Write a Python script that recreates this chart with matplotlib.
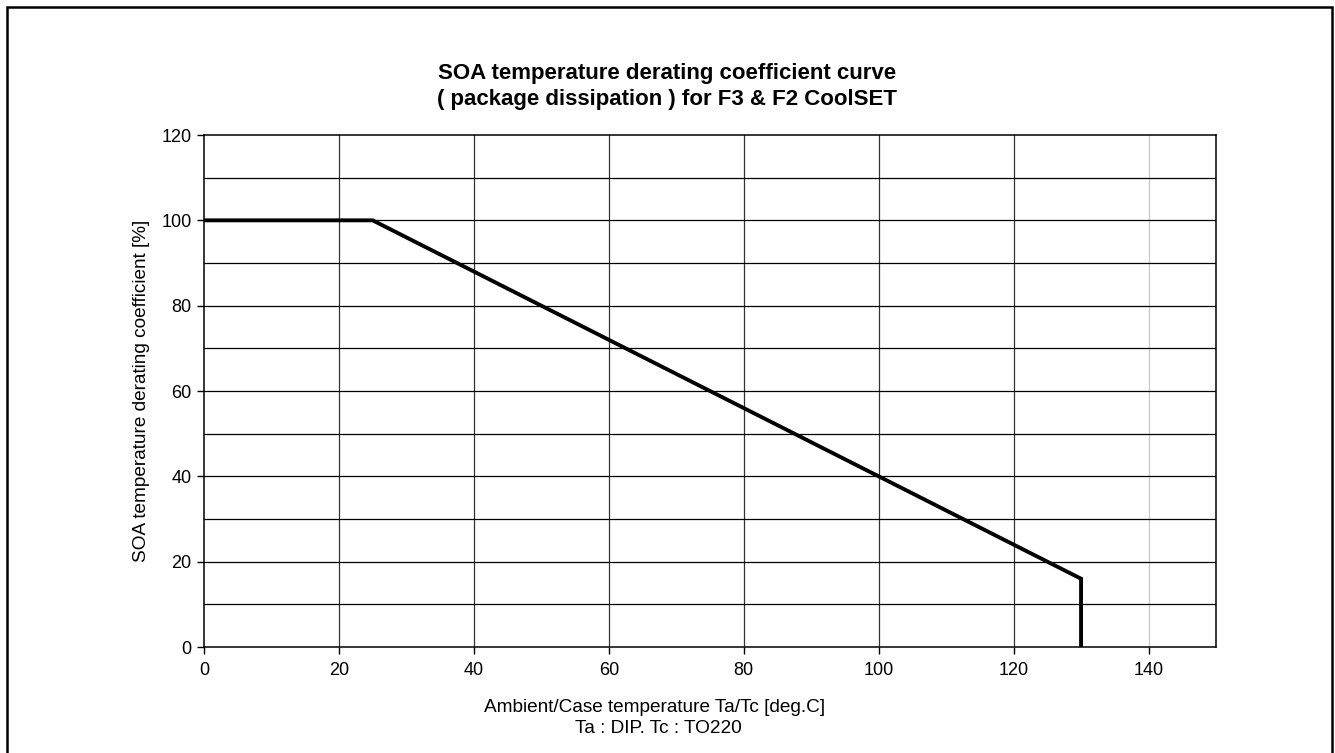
import matplotlib.pyplot as plt
import matplotlib.patches as mpatches

plt.rcParams['font.family'] = ['Liberation Sans', 'DejaVu Sans']

# derating curve
temp = [0, 25, 130, 130]
coef = [100, 100, 16, 0]

x_ticks = [0, 20, 40, 60, 80, 100, 120, 140]
y_ticks = [0, 20, 40, 60, 80, 100, 120]

W, H = 1335, 753
fig = plt.figure(figsize=(W / 100, H / 100), dpi=100)
ax = fig.add_axes([204 / W, 1 - 647 / H, (1216 - 204) / W, (647 - 135) / H])

# outer frame of the page (bottom edge is cut off)
fig.patches.append(mpatches.Rectangle((7 / W, -0.05), (1332 - 7) / W, 1.05 - 7 / H,
                                      transform=fig.transFigure, fill=False,
                                      edgecolor='black', linewidth=1.8))

ax.set_xlim(0, 150)
ax.set_ylim(0, 120)

# grid
for v in x_ticks[1:]:
    col = '#c8c8c8' if v == 140 else '#333333'
    ax.axvline(v, color=col, lw=0.9, zorder=1)
for h in range(10, 120, 10):
    ax.axhline(h, color='black', lw=0.9, zorder=1)

ax.plot(temp, coef, color='black', lw=2.8, solid_joinstyle='miter', zorder=3)

ax.set_xticks(x_ticks)
ax.set_yticks(y_ticks)
ax.tick_params(direction='out', length=5, width=1, labelsize=13)
ax.tick_params(axis='x', pad=6)
ax.tick_params(axis='y', pad=4)
for s in ax.spines.values():
    s.set_linewidth(1.1)

# title, two lines
fig.text(667 / W, 1 - 79 / H, 'SOA temperature derating coefficient curve',
         ha='center', va='baseline', fontsize=16, fontweight='bold')
fig.text(667 / W, 1 - 105 / H, '( package dissipation ) for F3 & F2 CoolSET',
         ha='center', va='baseline', fontsize=16, fontweight='bold')

# axis labels
fig.text(655 / W, 1 - 712 / H, 'Ambient/Case temperature Ta/Tc [deg.C]',
         ha='center', va='baseline', fontsize=13.7)
fig.text(658 / W, 1 - 733 / H, 'Ta : DIP. Tc : TO220',
         ha='center', va='baseline', fontsize=13.7)
fig.text(142 / W, 1 - 391 / H, 'SOA temperature derating coefficient [%]',
         ha='center', va='center', rotation=90, fontsize=13.7)

fig.savefig('out.png', dpi=100)
